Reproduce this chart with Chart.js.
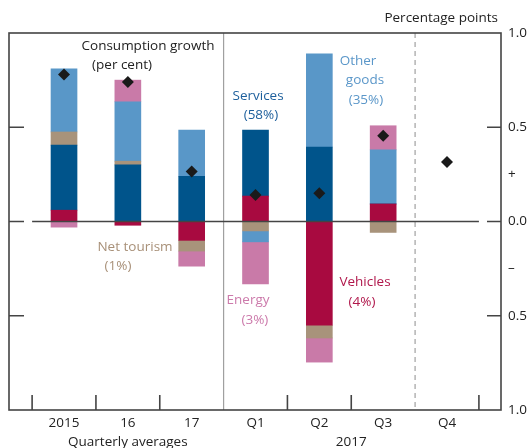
<!DOCTYPE html>
<html>
<head>
<meta charset="utf-8">
<script src="https://cdn.jsdelivr.net/npm/chart.js@4/dist/chart.umd.min.js"></script>
<style>
  html, body { margin: 0; padding: 0; background: #fff; }
  #wrap { width: 530px; height: 448px; position: relative; }
</style>
</head>
<body>
<div id="wrap"><canvas id="myChart"></canvas></div>
<script>
// categories along the bottom
var categories = ['2015', '16', '17', 'Q1', 'Q2', 'Q3', 'Q4'];

// contributions, percentage points (null = no bar)
var vehicles   = [0.06, -0.02, -0.10, 0.135, -0.55, 0.093, null];
var services   = [0.345, 0.30, 0.24, 0.35, 0.395, 0, null];
var netTourism = [0.07, 0.02, -0.057, -0.05, -0.068, -0.058, null];
var otherGoods = [0.335, 0.315, 0.245, -0.058, 0.495, 0.287, null];
var energy     = [-0.03, 0.115, -0.08, -0.223, -0.128, 0.128, null];

// consumption growth, per cent
var growth = [0.78, 0.74, 0.265, 0.14, 0.15, 0.455, 0.315];

// right-hand axis
var yTicks = [1, 0.5, 0.25, 0, -0.25, -0.5, -1];
var yTickLabels = ['1.0', '0.5', '+', '0.0', '–', '0.5', '1.0'];

var FONT = '"Open Sans", sans-serif';

function pts(arr) {
  var out = [];
  arr.forEach(function (v, i) { if (v !== null) out.push({ x: i, y: v }); });
  return out;
}

function barSet(label, arr, color) {
  return {
    type: 'bar', label: label, data: pts(arr), backgroundColor: color,
    barThickness: 26, borderWidth: 0, order: 2
  };
}

// text labels placed in data coordinates
var notes = [
  { t: 'Consumption growth', x: 1.316, y: 0.928, c: '#222222' },
  { t: '(per cent)', x: 0.909, y: 0.827, c: '#222222' },
  { t: 'Services', x: 3.04, y: 0.667, c: '#1d5f9c' },
  { t: '(58%)', x: 3.085, y: 0.566, c: '#1d5f9c' },
  { t: 'Other', x: 4.606, y: 0.85, c: '#5b97c9' },
  { t: 'goods', x: 4.715, y: 0.75, c: '#5b97c9' },
  { t: '(35%)', x: 4.73, y: 0.646, c: '#5b97c9' },
  { t: 'Net tourism', x: 1.112, y: -0.136, c: '#a89078' },
  { t: '(1%)', x: 0.846, y: -0.237, c: '#a89078' },
  { t: 'Energy', x: 2.883, y: -0.418, c: '#cc7aab' },
  { t: '(3%)', x: 2.99, y: -0.524, c: '#cc7aab' },
  { t: 'Vehicles', x: 4.715, y: -0.322, c: '#b0174b' },
  { t: '(4%)', x: 4.668, y: -0.428, c: '#b0174b' }
];

var frame = {
  id: 'frame',
  afterDatasetsDraw: function (chart) {
    var c = chart.ctx, a = chart.chartArea;
    var xs = chart.scales.x, ys = chart.scales.y;
    var y0 = ys.getPixelForValue(0);
    c.save();

    // divider between annual and quarterly
    c.strokeStyle = '#a0a0a0';
    c.lineWidth = 1.2;
    c.beginPath();
    c.moveTo(xs.getPixelForValue(2.5), a.top);
    c.lineTo(xs.getPixelForValue(2.5), a.bottom);
    c.stroke();
    c.setLineDash([5, 4]);
    c.beginPath();
    c.moveTo(xs.getPixelForValue(5.5), a.top);
    c.lineTo(xs.getPixelForValue(5.5), a.bottom);
    c.stroke();
    c.setLineDash([]);

    // zero line
    c.strokeStyle = '#444';
    c.lineWidth = 1.6;
    c.beginPath();
    c.moveTo(xs.getPixelForValue(-0.5), y0);
    c.lineTo(xs.getPixelForValue(6.5), y0);
    c.stroke();

    // frame
    c.strokeRect(a.left, a.top, a.right - a.left, a.bottom - a.top);

    // inward ticks, left and right
    [0.5, 0, -0.5].forEach(function (v) {
      var py = ys.getPixelForValue(v);
      c.beginPath();
      c.moveTo(a.left, py); c.lineTo(a.left + 15, py);
      c.moveTo(a.right - 14, py); c.lineTo(a.right, py);
      c.stroke();
    });
    // inward ticks along the bottom
    [-0.5, 0.5, 1.5, 3.5, 4.5, 6.5].forEach(function (v) {
      var px = xs.getPixelForValue(v);
      c.beginPath();
      c.moveTo(px, a.bottom); c.lineTo(px, a.bottom - 15);
      c.stroke();
    });

    // text labels
    c.font = '13.5px ' + FONT;
    c.textAlign = 'center';
    c.textBaseline = 'middle';
    notes.forEach(function (n) {
      c.fillStyle = n.c;
      c.fillText(n.t, xs.getPixelForValue(n.x), ys.getPixelForValue(n.y));
    });

    // axis titles
    c.fillStyle = '#222';
    c.fillText('Quarterly averages', xs.getPixelForValue(1), 442);
    c.fillText('2017', xs.getPixelForValue(4.5), 442);
    c.textAlign = 'right';
    c.fillText('Percentage points', a.right - 3, 18);
    c.restore();
  }
};

var ctx = document.getElementById('myChart');
var myChart = new Chart(ctx, {
  data: {
    datasets: [
      {
        type: 'scatter', label: 'Consumption growth', data: pts(growth),
        pointStyle: 'rectRot', pointRadius: 6, pointBackgroundColor: '#1a1a1a',
        pointBorderWidth: 0, stack: 'growth', order: 0
      },
      barSet('Vehicles', vehicles, '#a80a40'),
      barSet('Services', services, '#00548b'),
      barSet('Net tourism', netTourism, '#a8937b'),
      barSet('Other goods', otherGoods, '#5997c8'),
      barSet('Energy', energy, '#c97aa8')
    ]
  },
  options: {
    responsive: true,
    maintainAspectRatio: false,
    animation: false,
    layout: { padding: { left: 9, top: 33, right: 0, bottom: 0 } },
    plugins: { legend: { display: false }, tooltip: { enabled: false } },
    scales: {
      x: {
        type: 'linear', stacked: true, offset: false, min: -0.862, max: 6.846,
        grid: { display: false, drawTicks: false }, border: { display: false },
        afterBuildTicks: function (s) { s.ticks = categories.map(function (c, i) { return { value: i }; }); },
        afterFit: function (s) { s.height = 38; },
        ticks: {
          padding: 5, color: '#222', font: { family: FONT, size: 13.5 },
          maxRotation: 0, autoSkip: false,
          callback: function (v) { return categories[v]; }
        }
      },
      y: {
        position: 'right', stacked: true, min: -1, max: 1,
        grid: { display: false, drawTicks: false }, border: { display: false },
        afterBuildTicks: function (s) { s.ticks = yTicks.map(function (v) { return { value: v }; }); },
        afterFit: function (s) { s.width = 29; },
        ticks: {
          padding: 7, color: '#222', font: { family: FONT, size: 13.5 },
          autoSkip: false,
          callback: function (v) { return yTickLabels[yTicks.indexOf(v)]; }
        }
      }
    }
  },
  plugins: [frame]
});
</script>
</body>
</html>
